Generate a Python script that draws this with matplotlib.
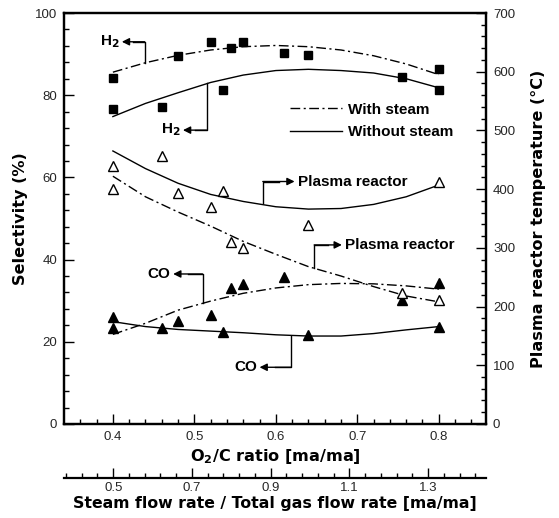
import matplotlib
matplotlib.use("Agg")
import matplotlib.pyplot as plt
from matplotlib.lines import Line2D
import numpy as np

plt.rcParams['font.family'] = ['Liberation Sans', 'DejaVu Sans']
plt.rcParams['mathtext.fontset'] = 'custom'
plt.rcParams['mathtext.rm'] = 'DejaVu Sans'
plt.rcParams['mathtext.bf'] = 'DejaVu Sans:bold'

# measured points (O2/C ratio)
o2c_steam = [0.40, 0.48, 0.52, 0.545, 0.56, 0.61, 0.755, 0.80]
h2_steam = [84.1, 89.6, 93.0, 91.6, 93.0, 90.3, 84.4, 86.4]
co_steam = [26.0, 25.1, 26.5, 33.2, 34.1, 35.8, 30.2, 34.2]
temp_steam = [401, 394, 369, 310, 299, np.nan, 223, 211]

o2c_dry = [0.40, 0.46, 0.535, 0.64, 0.80]
h2_dry = [76.6, 77.1, 81.3, 89.8, 81.3]
co_dry = [23.3, 23.4, 22.5, 21.7, 23.7]
temp_dry = [440, 457, 397, 339, 413]

# trend lines
fit_x = [0.40, 0.44, 0.48, 0.52, 0.56, 0.60, 0.64, 0.68, 0.72, 0.76, 0.80]
h2_steam_fit = [85.6, 87.9, 89.7, 91.0, 91.8, 92.1, 91.8, 91.0, 89.6, 87.6, 85.0]
h2_dry_fit = [74.8, 78.0, 80.6, 83.1, 84.9, 86.0, 86.3, 86.0, 85.4, 84.0, 81.8]
temp_steam_fit = [422, 387, 361, 337, 311, 289, 268, 252, 234, 218, 208]
temp_dry_fit = [465, 435, 410, 391, 379, 370, 366, 367, 374, 387, 407]
co_steam_fit = [21.8, 24.5, 27.7, 29.9, 31.8, 33.1, 33.9, 34.2, 34.1, 33.6, 32.8]
co_dry_fit = [24.9, 23.7, 23.0, 22.6, 22.2, 21.7, 21.4, 21.4, 22.0, 22.9, 23.7]

steam_ticks = [0.5, 0.7, 0.9, 1.1, 1.3]

dashdot = (0, (7, 2.5, 1.5, 2.5))
tick_col = '#262626'
lab_font = dict(family='DejaVu Sans', fontweight='bold', fontsize=11.6)

fig = plt.figure(figsize=(5.59, 5.18), dpi=100)
ax = fig.add_axes([0.1145, 0.1815, 0.755, 0.7934])
axt = ax.twinx()

ax.set_xlim(0.34, 0.858)
ax.set_ylim(0, 100)
axt.set_ylim(0, 700)

# selectivity
ax.plot(fit_x, h2_steam_fit, color='k', lw=1.0, ls=dashdot)
ax.plot(fit_x, h2_dry_fit, color='k', lw=1.0)
ax.plot(fit_x, co_steam_fit, color='k', lw=1.0, ls=dashdot)
ax.plot(fit_x, co_dry_fit, color='k', lw=1.0)
ax.plot(o2c_steam, h2_steam, 's', color='k', ms=6.3, zorder=5)
ax.plot(o2c_dry, h2_dry, 's', color='k', ms=6.3, zorder=5)
ax.plot(o2c_steam, co_steam, '^', color='k', ms=6.5, zorder=5)
ax.plot(o2c_dry, co_dry, '^', color='k', ms=6.5, zorder=5)

# temperature
axt.plot(fit_x, temp_steam_fit, color='k', lw=1.0, ls=dashdot)
axt.plot(fit_x, temp_dry_fit, color='k', lw=1.0)
axt.plot(o2c_steam, temp_steam, '^', mfc='white', mec='k', mew=1.0, ms=7, zorder=5)
axt.plot(o2c_dry, temp_dry, '^', mfc='white', mec='k', mew=1.0, ms=7, zorder=5)

# ticks
ax.set_xticks([0.4, 0.5, 0.6, 0.7, 0.8])
ax.set_xticks(np.arange(0.36, 0.86, 0.02), minor=True)
ax.set_yticks(range(0, 101, 20))
ax.set_yticks(range(0, 101, 4), minor=True)
axt.set_yticks(range(0, 701, 100))
axt.set_yticks(range(0, 701, 20), minor=True)

ax.tick_params(which='both', direction='in', top=True, right=False, width=1.0)
ax.tick_params(which='major', length=7.5, labelsize=9.5, pad=5, labelcolor=tick_col)
ax.tick_params(which='minor', length=3.5)
axt.tick_params(which='both', direction='in', width=1.0)
axt.tick_params(which='major', length=7.5, labelsize=9.5, pad=5, labelcolor=tick_col)
axt.tick_params(which='minor', length=3.5)
for a in (ax, axt):
    for s in a.spines.values():
        s.set_linewidth(1.6)

ax.set_xlabel(r'O$_\mathbf{2}$/C ratio [ma/ma]', labelpad=3, **lab_font)
ax.set_ylabel('Selectivity (%)', labelpad=5, **lab_font)
axt.set_ylabel('Plasma reactor temperature (\u00b0C)', labelpad=11, **lab_font)

# second x axis for steam ratio
ax2 = ax.twiny()
ax2.set_xlim(0.375, 1.447)
ax2.patch.set_visible(False)
for k in ('top', 'left', 'right'):
    ax2.spines[k].set_visible(False)
ax2.spines['bottom'].set_position(('outward', 39))
ax2.spines['bottom'].set_linewidth(1.6)
ax2.xaxis.set_ticks_position('bottom')
ax2.xaxis.set_label_position('bottom')
ax2.set_xticks(steam_ticks)
ax2.set_xticks(np.arange(0.38, 1.45, 0.04), minor=True)
ax2.tick_params(which='both', direction='in', width=1.0)
ax2.tick_params(which='major', length=7.5, labelsize=9.5, pad=3, labelcolor=tick_col)
ax2.tick_params(which='minor', length=3.5)
ax2.set_xticklabels([f'{v:.1f}' for v in steam_ticks])
ax2.set_xlabel('Steam flow rate / Total gas flow rate [ma/ma]', labelpad=1,
               family='DejaVu Sans', fontweight='bold', fontsize=11.3)


# bracket call-outs
def callout(a, x0, y0, y1, xtip, label, side):
    a.plot([x0, x0, (x0 + xtip) / 2], [y0, y1, y1], color='k', lw=1.0)
    a.annotate('', xy=(xtip, y1), xytext=(x0, y1),
               arrowprops=dict(arrowstyle='-|>', color='k', lw=1.0,
                               mutation_scale=11, shrinkA=0, shrinkB=0))
    if side == 'left':
        a.text(xtip - 0.003, y1, label, ha='right', va='center',
               fontsize=11, fontweight='bold')
    else:
        a.text(xtip + 0.004, y1, label, ha='left', va='center',
               fontsize=11, fontweight='bold')


callout(ax, 0.439, 87.8, 93.0, 0.411, r'H$_\mathbf{2}$', 'left')
callout(ax, 0.515, 82.9, 71.5, 0.486, r'H$_\mathbf{2}$', 'left')
callout(ax, 0.510, 29.4, 36.5, 0.474, 'CO', 'left')
callout(ax, 0.619, 21.4, 13.8, 0.580, 'CO', 'left')
callout(axt, 0.584, 376, 413, 0.623, 'Plasma reactor', 'right')
callout(axt, 0.647, 266, 305, 0.681, 'Plasma reactor', 'right')

handles = [Line2D([], [], color='k', lw=1.0, ls=dashdot),
           Line2D([], [], color='k', lw=1.0)]
leg = ax.legend(handles, ['With steam', 'Without steam'], loc='upper left',
                bbox_to_anchor=(0.535, 0.782), frameon=False, handlelength=3.4,
                handletextpad=0.4, labelspacing=0.55, borderpad=0, borderaxespad=0,
                prop={'size': 11, 'weight': 'bold'})

fig.savefig('out.png', dpi=100)
